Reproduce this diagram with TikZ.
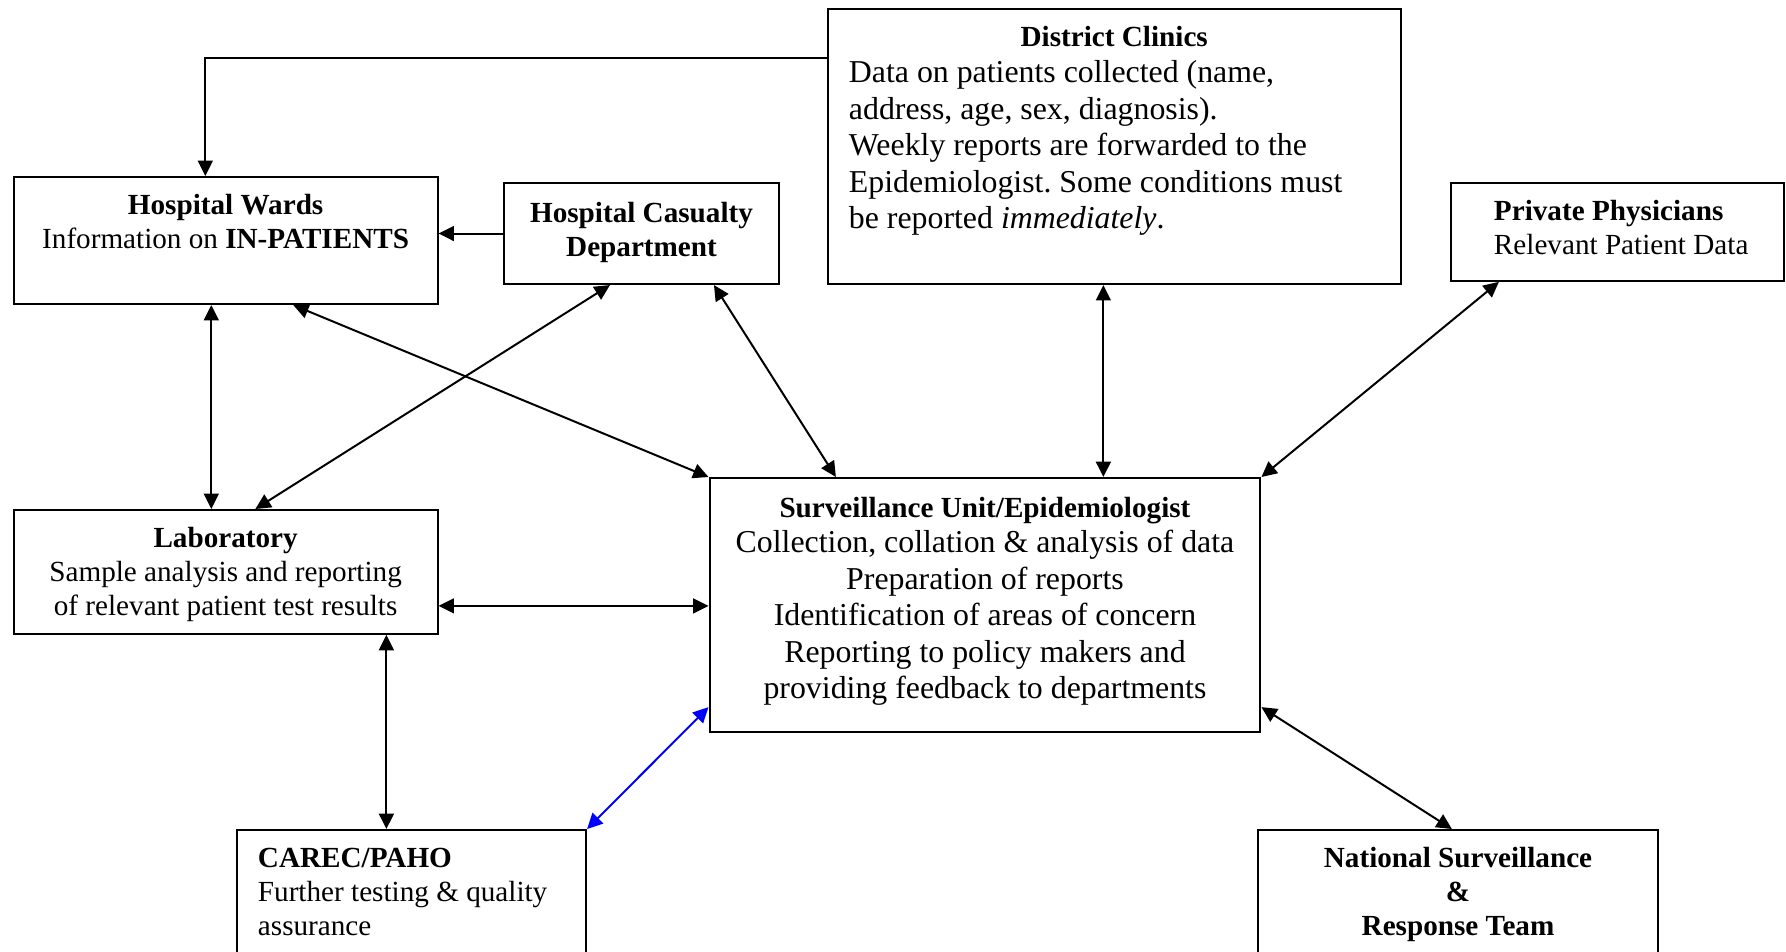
\documentclass[tikz,border=0pt]{standalone}
\usepackage{fontspec}
\setmainfont{Liberation Serif}
\frenchspacing
\usetikzlibrary{arrows.meta}

\begin{document}
\begin{tikzpicture}[
    x=0.377pt, y=-0.377pt,
    box/.style={rectangle, draw, line width=0.75pt, inner sep=0pt, anchor=north west, align=flush center, text height=14.3pt, font=\fontsize{11pt}{12.65pt}\selectfont},
    bigtext/.style={font=\fontsize{12pt}{13.8pt}\selectfont},
    link/.style={line width=0.75pt, >={Triangle[length=5.8pt, width=5.6pt]}}
]
\useasboundingbox (0,0) rectangle (1786,951);
\clip (0,0) rectangle (1786,951);

\node[box, text width=159.8pt, text depth=33.6pt] (wards) at (12.7,176) {\textbf{Hospital Wards}\\Information on \textbf{IN-PATIENTS}};
\node[box, text width=103.7pt, text height=15pt, text depth=23.1pt] (casualty) at (503,182) {\textbf{Hospital Casualty}\\\textbf{Department}};
\node[box, bigtext, text width=200pt, inner xsep=8.1pt, text depth=89.4pt, align=flush left] (clinics) at (826.5,8) {\makebox[200pt]{\fontsize{11pt}{12.65pt}\selectfont\textbf{District Clinics}}\\[-0.4pt]Data on patients collected (name,\\address, age, sex, diagnosis).\\Weekly reports are forwarded to the\\Epidemiologist. Some conditions must\\be reported \textit{immediately}.};
\node[box, text width=125.5pt, text depth=22.6pt, align=flush left] (private) at (1450,182) {\hspace*{16.2pt}\textbf{Private Physicians}\\\hspace*{16.2pt}Relevant Patient Data};

\node[box, text width=159.8pt, text depth=32.4pt] (lab) at (12.7,509) {\textbf{Laboratory}\\Sample analysis and reporting\\of relevant patient test results};
\node[box, bigtext, text width=207.7pt, text height=14.7pt, text depth=81.1pt] (surv) at (708.5,477) {{\fontsize{11pt}{12.65pt}\selectfont\textbf{Surveillance Unit/Epidemiologist}}\\[-0.4pt]Collection, collation \& analysis of data\\Preparation of reports\\Identification of areas of concern\\Reporting to policy makers and\\providing feedback to departments};

\node[box, text width=115.8pt, inner xsep=7.9pt, text depth=40pt, align=flush left] (carec) at (236,829) {\textbf{CAREC/PAHO}\\Further testing \& quality\\assurance};
\node[box, text width=150.8pt, text depth=40pt] (national) at (1257,829) {\textbf{National Surveillance}\\\textbf{\&}\\\textbf{Response Team}};

\draw[link, ->] ([yshift=-18.85pt]clinics.north west) -| ([xshift=-7.65pt]wards.north);
\draw[link, ->] (casualty.west) -- (casualty.west -| wards.east);
\draw[link, <->] ([xshift=-5.4pt]wards.south) -- ([xshift=-5.4pt]lab.north);
\draw[link, <->] ([xshift=25.5pt]wards.south) -- (surv.north west);
\draw[link, <->] ([xshift=-11.9pt]casualty.south) -- ([xshift=11.2pt]lab.north);
\draw[link, <->] ([xshift=27.3pt]casualty.south) -- ([xshift=-56.2pt]surv.north);
\draw[link, <->] ([xshift=-4.1pt]clinics.south) -- ([xshift=-4.1pt]clinics.south |- surv.north);
\draw[link, <->] ([xshift=-44.7pt]private.south) -- (surv.north east);

\draw[link, <->] ([yshift=-12.8pt]lab.east) -- ([yshift=-12.8pt]lab.east -| surv.west);
\draw[link, <->] ([xshift=60.6pt]lab.south) -- ([xshift=60.6pt]lab.south |- carec.north);
\draw[link, <->, blue] (carec.north east) -- ([yshift=9.8pt]surv.south west);
\draw[link, <->] ([yshift=9.8pt]surv.south east) -- ([xshift=-2.3pt]national.north);

\end{tikzpicture}
\end{document}
